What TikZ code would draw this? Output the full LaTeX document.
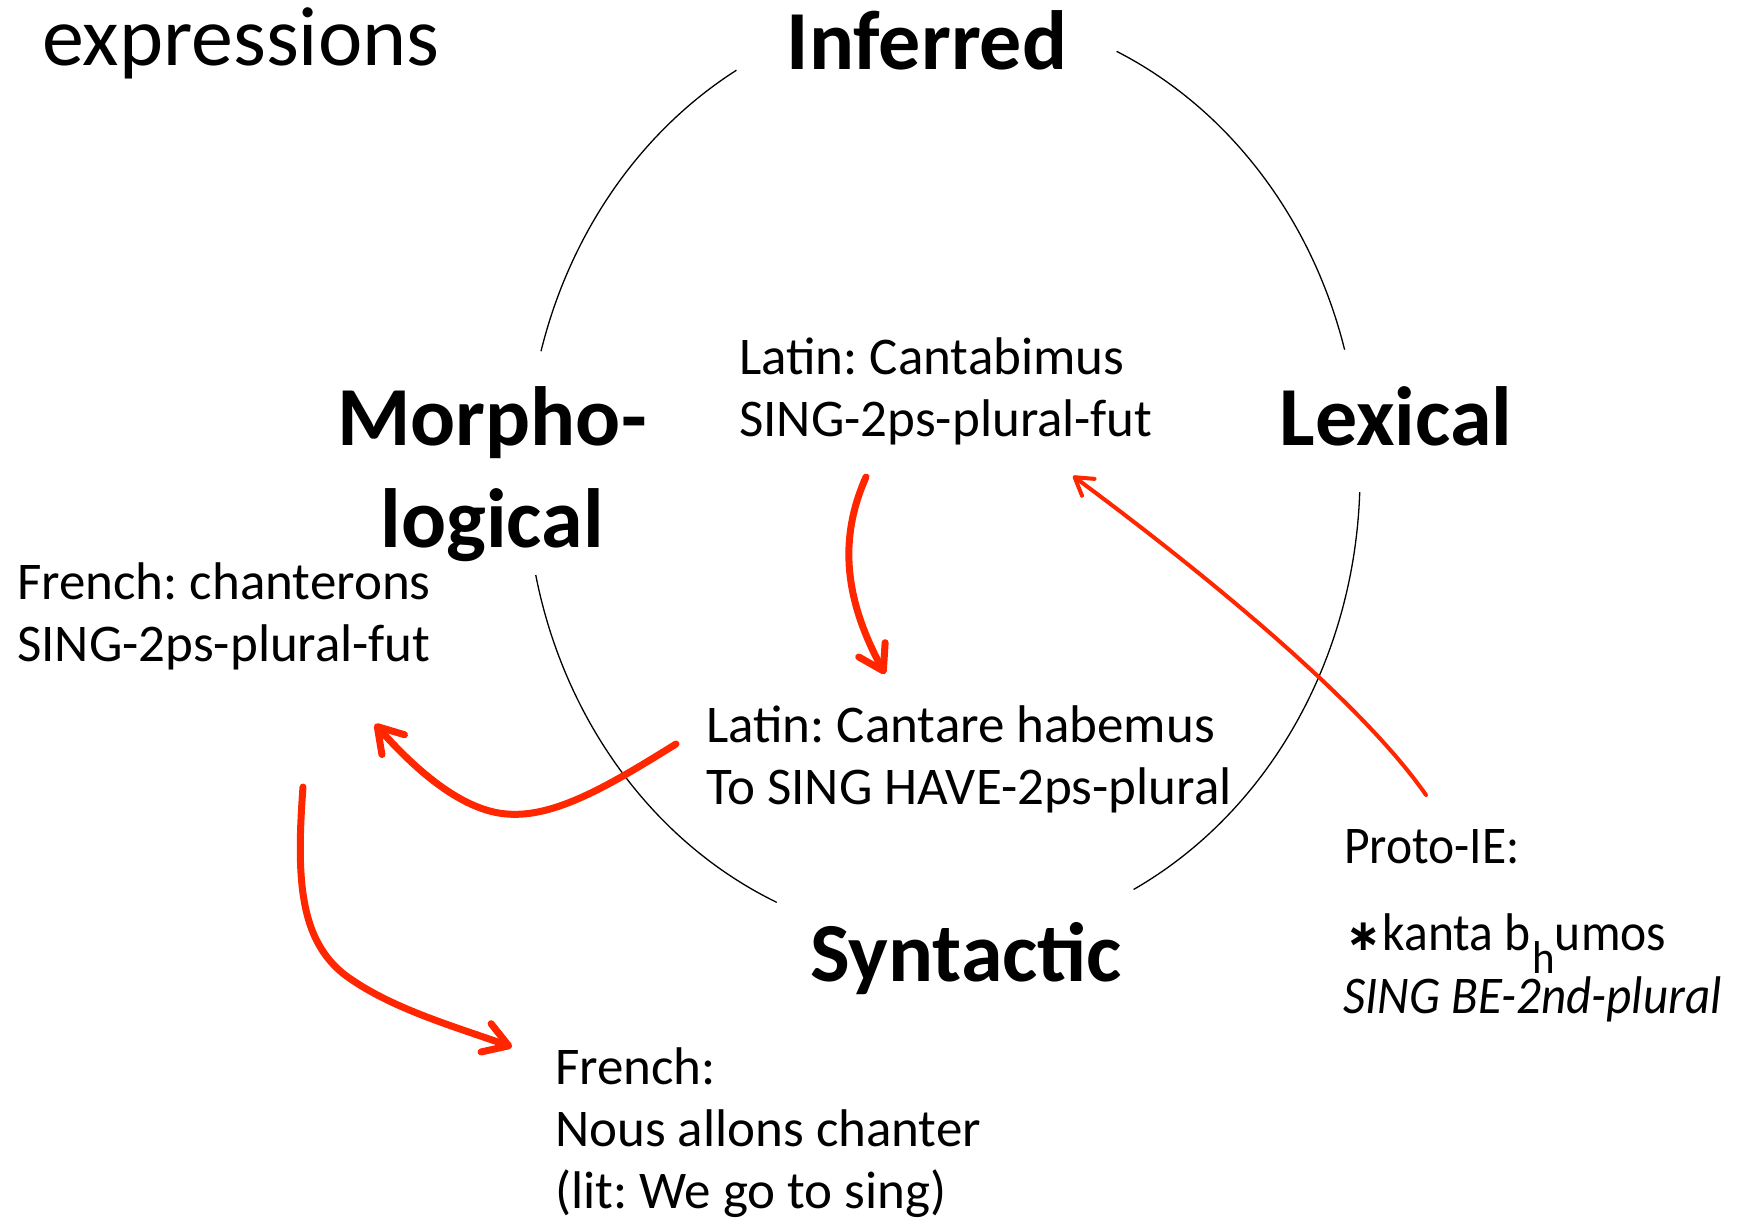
\documentclass[tikz,border=0pt]{standalone}
\usepackage{fontspec}
\setmainfont{Carlito}
\newfontfamily\symfnt{DejaVu Sans}
\usetikzlibrary{arrows.meta}
\definecolor{arrowred}{RGB}{255,38,0}
\frenchspacing
\begin{document}
\begin{tikzpicture}[x=1pt,y=1pt,
  big/.style={font=\fontsize{84}{102}\selectfont\bfseries, inner sep=0pt, anchor=base, align=center},
  small/.style={font=\fontsize{53}{62}\selectfont, inner sep=0pt, anchor=base west, align=left},
  ringarc/.style={line width=1.3pt, draw=black},
  redthick/.style={draw=arrowred, line width=7pt, line cap=round,
    -{Straight Barb[length=24pt, width=30pt, line cap=round, line join=round]}},
  redthin/.style={draw=arrowred, line width=4pt, line cap=round,
    -{Straight Barb[length=17pt, width=21pt, line cap=round, line join=round]}}]
\useasboundingbox (0,0) rectangle (1737,-1219);

% ring (arcs broken where the labels sit)
\coordinate (ctr) at (943,-475);
\draw[ringarc] (ctr) ++(119.7:417pt and 466pt) arc[start angle=119.7, end angle=164.6, x radius=417pt, y radius=466pt];
\draw[ringarc] (ctr) ++(65.4:417pt and 466pt) arc[start angle=65.4, end angle=15.6, x radius=417pt, y radius=466pt];
\draw[ringarc] (ctr) ++(192.4:417pt and 466pt) arc[start angle=192.4, end angle=246.5, x radius=417pt, y radius=466pt];
\draw[ringarc] (ctr) ++(297.2:417pt and 466pt) arc[start angle=297.2, end angle=357.9, x radius=417pt, y radius=466pt];

% labels (base anchor of a multi-line node = baseline of its last line)
\node[small, font=\fontsize{84}{97}\selectfont] (expr) at (42,-65) {expressions};
\node[big] (inferred) at (927,-69) {Inferred};
\node[big] (morpho) at (492,-547) {Morpho-\\logical};
\node[big] (lexical) at (1396,-445) {Lexical};
\node[big] (syntactic) at (966,-981) {Syntactic};

\node[small] (cantabimus) at (739,-436) {Latin: Cantabimus\\SING-2ps-plural-fut};
\node[small] (habemus) at (706,-804) {Latin: Cantare habemus\\To SING HAVE-2ps-plural};
\node[small] (chanterons) at (17,-661) {French: chanterons\\SING-2ps-plural-fut};
\node[small] (protoie) at (1344,-863) {\scalebox{0.935}[1]{Proto-IE:}};
\node[small] (kanta) at (1346,-950) {\scalebox{0.935}[1]{{\symfnt\bfseries\fontsize{44}{44}\selectfont ∗}\kern2pt kanta b\kern2pt\raisebox{-23pt}{\fontsize{46}{46}\selectfont h}umos}};
\node[small, font=\fontsize{53}{62}\selectfont\itshape] (singbe) at (1343,-1013) {\scalebox{0.925}[1]{SING BE-2nd-plural}};
\node[small] (allons) at (555,-1208) {French:\\Nous allons chanter\\(lit: We go to sing)};

% arrow end points
\coordinate (a1s) at (866,-477);
\coordinate (a1e) at (885,-674);
\coordinate (a2s) at (676,-744);
\coordinate (a2e) at (375,-724);
\coordinate (a3s) at (303,-787);
\coordinate (a3e) at (512,-1047);
\coordinate (a4s) at (1426,-795);
\coordinate (a4e) at (1073,-476);

\draw[redthick] (a1s) .. controls (838,-540) and (845,-600) .. (a1e);
\draw[redthick] (a2s) .. controls (610,-785) and (555,-818) .. (507,-814)
                      .. controls (465,-811) and (420,-775) .. (a2e);
\draw[redthick] (a3s) .. controls (296,-880) and (300,-940) .. (345,-975)
                      .. controls (390,-1008) and (450,-1025) .. (a3e);
\draw[redthin] (a4s) .. controls (1360,-700) and (1200,-570) .. (a4e);
\end{tikzpicture}
\end{document}
